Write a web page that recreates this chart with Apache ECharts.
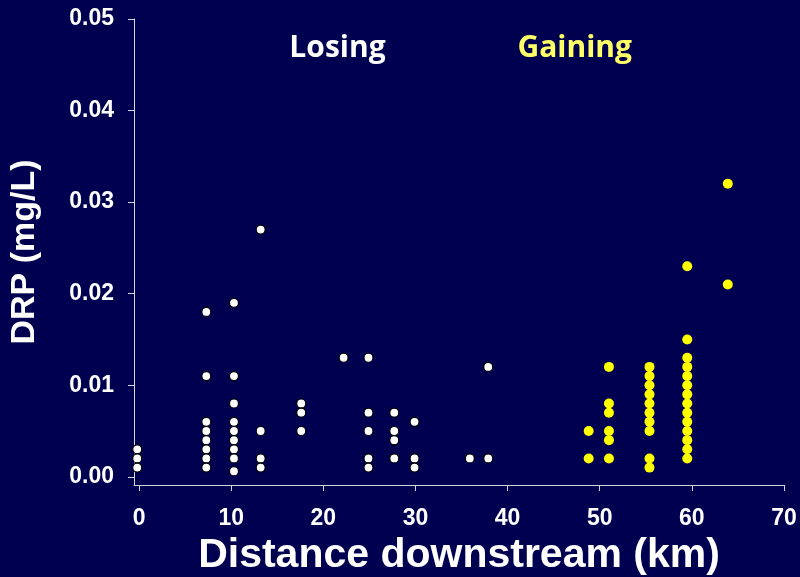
<!DOCTYPE html>
<html>
<head>
<meta charset="utf-8">
<script src="https://cdn.jsdelivr.net/npm/echarts@6/dist/echarts.min.js"></script>
<style>
  html, body { margin: 0; padding: 0; background: #000050; }
  #chart { width: 800px; height: 577px; }
</style>
</head>
<body>
<div id="chart"></div>
<script>
// Tick labels
const xTicks = [0, 10, 20, 30, 40, 50, 60, 70];
const yTicks = [0, 0.01, 0.02, 0.03, 0.04, 0.05];

// Losing reach: distance (km) per sampling site, and DRP values (mg/L) observed there
const losingKm = [-0.2, 7.3, 10.3, 13.2, 17.6, 22.2, 24.9, 27.7, 29.9, 35.9, 37.9];
const losingDRP = [
  [0.003, 0.002, 0.001],
  [0.018, 0.011, 0.006, 0.005, 0.004, 0.003, 0.002, 0.001],
  [0.019, 0.011, 0.008, 0.006, 0.005, 0.004, 0.003, 0.002, 0.0006],
  [0.027, 0.005, 0.002, 0.001],
  [0.008, 0.007, 0.005],
  [0.013],
  [0.013, 0.007, 0.005, 0.002, 0.001],
  [0.007, 0.005, 0.004, 0.002],
  [0.006, 0.002, 0.001],
  [0.002],
  [0.012, 0.002]
];

// Gaining reach
const gainingKm = [48.8, 51.0, 55.4, 59.5, 63.9];
const gainingDRP = [
  [0.005, 0.002],
  [0.012, 0.008, 0.007, 0.005, 0.004, 0.002],
  [0.012, 0.011, 0.010, 0.009, 0.008, 0.007, 0.006, 0.005, 0.002, 0.001],
  [0.023, 0.015, 0.013, 0.012, 0.011, 0.010, 0.009, 0.008, 0.007, 0.006, 0.005, 0.004, 0.003, 0.002],
  [0.032, 0.021]
];

function toPoints(kms, vals) {
  const out = [];
  kms.forEach((km, i) => vals[i].forEach(v => out.push([km, v])));
  return out;
}

const chart = echarts.init(document.getElementById('chart'), null, { renderer: 'canvas' });
const axisColor = '#d4d4dc';
const labelFont = { color: '#ffffff', fontFamily: 'Liberation Sans', fontWeight: 'bold', fontSize: 23 };

chart.setOption({
  backgroundColor: '#000050',
  animation: false,
  grid: { left: 134, right: 16, top: 19, bottom: 92, containLabel: false, outerBoundsMode: 'none' },
  xAxis: {
    type: 'value',
    min: -0.55,
    max: 70,
    name: 'Distance downstream (km)',
    nameLocation: 'middle',
    nameGap: 46,
    nameTextStyle: { color: '#ffffff', fontFamily: 'Liberation Sans', fontWeight: 'bold', fontSize: 41 },
    axisLine: { show: true, onZero: false, lineStyle: { color: axisColor, width: 1 } },
    axisTick: { show: true, inside: false, length: 6, customValues: xTicks, lineStyle: { color: axisColor } },
    axisLabel: Object.assign({ margin: 22, customValues: xTicks, formatter: v => String(v) }, labelFont),
    splitLine: { show: false }
  },
  yAxis: {
    type: 'value',
    min: -0.0009,
    max: 0.05,
    name: 'DRP (mg/L)',
    nameLocation: 'middle',
    nameGap: 92,
    nameTextStyle: { color: '#ffffff', fontFamily: 'Liberation Sans', fontWeight: 'bold', fontSize: 34 },
    axisLine: { show: true, onZero: false, lineStyle: { color: axisColor, width: 1 } },
    axisTick: { show: true, inside: false, length: 6, customValues: yTicks, lineStyle: { color: axisColor } },
    axisLabel: Object.assign({ margin: 20, customValues: yTicks, formatter: v => v.toFixed(2) }, labelFont),
    splitLine: { show: false }
  },
  graphic: [
    { type: 'text', x: 337.5, y: 48, style: { text: 'Losing', fill: '#ffffff', font: 'bold 30px "Open Sans"', textAlign: 'center', textVerticalAlign: 'middle' } },
    { type: 'text', x: 574.7, y: 48, style: { text: 'Gaining', fill: '#ffff66', font: 'bold 30px "Open Sans"', textAlign: 'center', textVerticalAlign: 'middle' } }
  ],
  series: [
    {
      name: 'Losing', type: 'scatter', symbol: 'circle', symbolSize: 9,
      itemStyle: { color: '#ffffff', borderColor: '#000000', borderWidth: 1.2, opacity: 1 },
      data: toPoints(losingKm, losingDRP)
    },
    {
      name: 'Gaining', type: 'scatter', symbol: 'circle', symbolSize: 10,
      itemStyle: { color: '#ffff00', opacity: 1 },
      data: toPoints(gainingKm, gainingDRP)
    }
  ]
});
</script>
</body>
</html>
